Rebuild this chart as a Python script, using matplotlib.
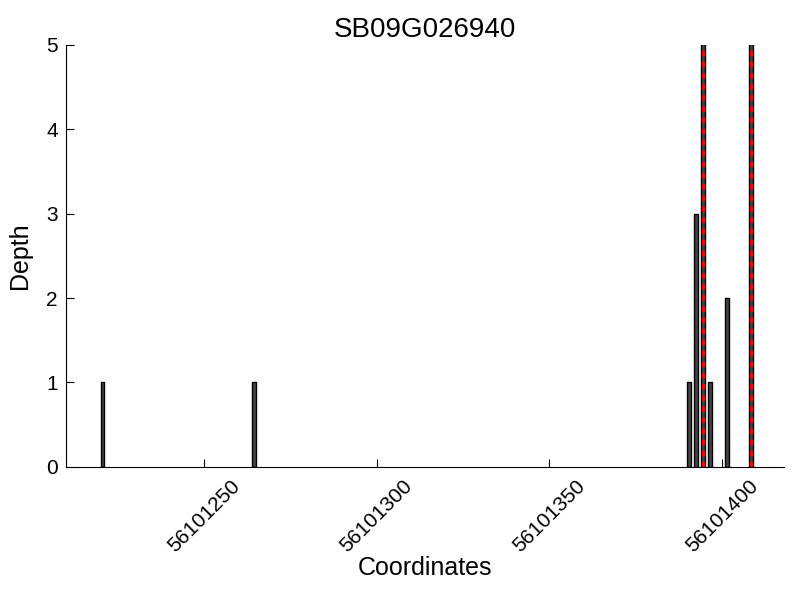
import matplotlib
matplotlib.use("Agg")
import matplotlib.pyplot as plt

gene = "SB09G026940"
coords = [56101220, 56101264, 56101390, 56101392, 56101394, 56101396, 56101401, 56101408]
depths = [1, 1, 1, 3, 6, 1, 2, 6]
ymax = 5

plt.rcParams['font.family'] = ['Liberation Sans', 'DejaVu Sans']

fig = plt.figure(figsize=(8, 6), dpi=100)
ax = fig.add_axes([0.0825, 0.222, 0.8975, 0.703])

ax.bar(coords, depths, width=1, align='edge', color='#444444',
       edgecolor='black', linewidth=1)

# bars that run past the top get a red dashed marker
for c, d in zip(coords, depths):
    if d > ymax:
        ax.axvline(c + 0.5, color='red', linestyle=(0, (2, 2)), linewidth=2)

ax.set_xlim(min(coords) - 10, max(coords) + 10)
ax.set_ylim(0, ymax)
ax.set_xticks([56101250, 56101300, 56101350, 56101400])
ax.set_xticklabels(["56101250", "56101300", "56101350", "56101400"],
                   rotation=45, ha='center')
ax.set_yticks(range(0, ymax + 1))
ax.tick_params(direction='in', labelsize=15, length=6)
ax.tick_params(axis='x', pad=7)
ax.tick_params(axis='y', pad=6)
ax.spines['top'].set_visible(False)
ax.spines['right'].set_visible(False)

ax.set_title(gene, fontsize=20, pad=6)
ax.set_xlabel("Coordinates", fontsize=18, labelpad=0)
ax.set_ylabel("Depth", fontsize=18, labelpad=10)

fig.savefig("out.png", dpi=100)
